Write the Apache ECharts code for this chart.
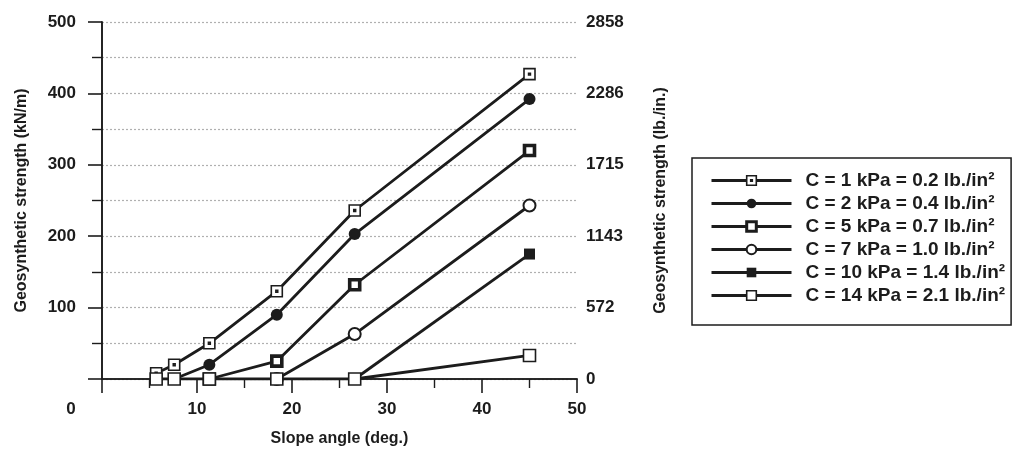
<!DOCTYPE html>
<html>
<head>
<meta charset="utf-8">
<script src="https://cdn.jsdelivr.net/npm/echarts@6/dist/echarts.min.js"></script>
<style>html,body{margin:0;padding:0;background:#fff}#c{width:1017px;height:452px}</style>
</head>
<body>
<div id="c"></div>
<script>
// Data
var slopeAngles = [5.7, 7.6, 11.3, 18.4, 26.6, 45];
var seriesNames = [
  'C = 1 kPa = 0.2 lb./in\u00B2',
  'C = 2 kPa = 0.4 lb./in\u00B2',
  'C = 5 kPa = 0.7 lb./in\u00B2',
  'C = 7 kPa = 1.0 lb./in\u00B2',
  'C = 10 kPa = 1.4 lb./in\u00B2',
  'C = 14 kPa = 2.1 lb./in\u00B2'
];
var c1Values  = [8, 20, 50, 123, 236, 427];
var c2Values  = [null, 0, 20, 90, 203, 392];
var c5Values  = [null, null, 0, 25, 132, 320];
var c7Values  = [null, null, null, 0, 63, 243];
var c10Values = [null, null, null, null, 0, 175];
var c14Values = [0, 0, 0, 0, 0, 33];
var xTickLabels = ['0', '10', '20', '30', '40', '50'];
var leftTickLabels = ['', '100', '200', '300', '400', '500'];
var rightTickLabels = ['0', '572', '1143', '1715', '2286', '2858'];

var FONT = "'Liberation Sans', Arial, Helvetica, sans-serif";
var INK = '#1c1c1c';

function pairs(vals) {
  var out = [];
  for (var i = 0; i < slopeAngles.length; i++) {
    if (vals[i] !== null) out.push([slopeAngles[i], vals[i]]);
  }
  return out;
}

var dotSquare = 'path://M0,0H12V12H0Z M5,5H7V7H5Z';

var styles = [
  {symbol: dotSquare, size: 11, fill: '#fff', bw: 1.6},
  {symbol: 'circle', size: 12, fill: INK, bw: 0},
  {symbol: 'rect', size: 10, fill: '#fff', bw: 3.6},
  {symbol: 'circle', size: 12, fill: '#fff', bw: 2},
  {symbol: 'rect', size: 11, fill: INK, bw: 0},
  {symbol: 'rect', size: 12, fill: '#fff', bw: 1.6}
];
var allValues = [c1Values, c2Values, c5Values, c7Values, c10Values, c14Values];

var series = allValues.map(function (vals, i) {
  var s = styles[i];
  return {
    name: seriesNames[i],
    type: 'line',
    xAxisIndex: 0,
    yAxisIndex: 0,
    data: pairs(vals),
    symbol: s.symbol,
    symbolSize: s.size,
    showAllSymbol: true,
    lineStyle: {color: INK, width: 2.8},
    itemStyle: {color: s.fill, borderColor: INK, borderWidth: s.bw},
    emphasis: {disabled: true},
    z: 2 + i
  };
});

var legendData = seriesNames.map(function (n, i) {
  var s = styles[i];
  return {name: n, itemStyle: {color: s.fill, borderColor: INK, borderWidth: s.bw > 0 ? Math.min(s.bw, 3) : 0}};
});

var chart = echarts.init(document.getElementById('c'), null, {renderer: 'canvas'});
chart.setOption({
  animation: false,
  backgroundColor: '#fff',
  textStyle: {fontFamily: FONT, color: INK},
  grid: {left: 102, right: 440, top: 22, bottom: 71, containLabel: false},
  legend: {
    orient: 'vertical',
    left: 692,
    top: 158,
    width: 324,
    padding: [13, 6, 20, 18],
    borderColor: INK,
    borderWidth: 1.5,
    itemWidth: 80,
    itemHeight: 12,
    itemGap: 4,
    lineStyle: {width: 3, color: INK},
    textStyle: {fontFamily: FONT, fontSize: 19, fontWeight: 'bold', color: INK, padding: [0, 0, 0, 9]},
    data: legendData
  },
  xAxis: [{
    type: 'value', position: 'bottom', min: 0, max: 50, interval: 10,
    name: 'Slope angle (deg.)', nameLocation: 'middle', nameGap: 52,
    nameTextStyle: {fontFamily: FONT, fontSize: 16, fontWeight: 'bold', color: INK},
    axisLine: {show: true, lineStyle: {color: INK, width: 1.6}},
    axisTick: {show: true, inside: false, length: 14, lineStyle: {color: INK, width: 1.6}},
    minorTick: {show: true, splitNumber: 2, length: 9, lineStyle: {color: INK, width: 1.4}},
    splitLine: {show: false},
    axisLabel: {
      margin: 22, fontFamily: FONT, fontSize: 17, fontWeight: 'bold', color: INK,
      formatter: function (v) {
        var lbl = xTickLabels[Math.round(v / 10)];
        return v === 0 ? '{z|' + lbl + '}' : lbl;
      },
      rich: {z: {fontFamily: FONT, fontSize: 17, fontWeight: 'bold', color: INK, padding: [0, 62, 0, 0]}}
    }
  }, {
    type: 'value', position: 'top', min: 0, max: 50, interval: 10,
    axisLine: {show: true, lineStyle: {color: INK, width: 1.6}},
    axisTick: {show: false}, axisLabel: {show: false}, splitLine: {show: false}
  }],
  yAxis: [{
    type: 'value', position: 'left', min: 0, max: 500, interval: 100,
    name: 'Geosynthetic strength (kN/m)', nameLocation: 'middle', nameGap: 72, nameRotate: 90,
    nameTextStyle: {fontFamily: FONT, fontSize: 16, fontWeight: 'bold', color: INK},
    axisLine: {show: true, lineStyle: {color: INK, width: 1.6}},
    axisTick: {show: true, inside: false, length: 14, lineStyle: {color: INK, width: 1.6}},
    minorTick: {show: true, splitNumber: 2, length: 10, lineStyle: {color: INK, width: 1.4}},
    splitLine: {show: true, lineStyle: {color: '#b0b0b0', width: 1.2, type: [2, 2]}},
    minorSplitLine: {show: true, lineStyle: {color: '#b0b0b0', width: 1.2, type: [2, 2]}},
    axisLabel: {
      margin: 26, fontFamily: FONT, fontSize: 17, fontWeight: 'bold', color: INK,
      formatter: function (v) { return leftTickLabels[Math.round(v / 100)]; }
    }
  }, {
    type: 'value', position: 'right', min: 0, max: 500, interval: 100,
    name: 'Geosynthetic strength (lb./in.)', nameLocation: 'middle', nameGap: 76, nameRotate: 90,
    nameTextStyle: {fontFamily: FONT, fontSize: 16, fontWeight: 'bold', color: INK},
    axisLine: {show: true, lineStyle: {color: INK, width: 1.6}},
    axisTick: {show: false},
    splitLine: {show: false},
    axisLabel: {
      margin: 9, fontFamily: FONT, fontSize: 17, fontWeight: 'bold', color: INK,
      formatter: function (v) { return rightTickLabels[Math.round(v / 100)]; }
    }
  }],
  series: series
});
</script>
</body>
</html>
